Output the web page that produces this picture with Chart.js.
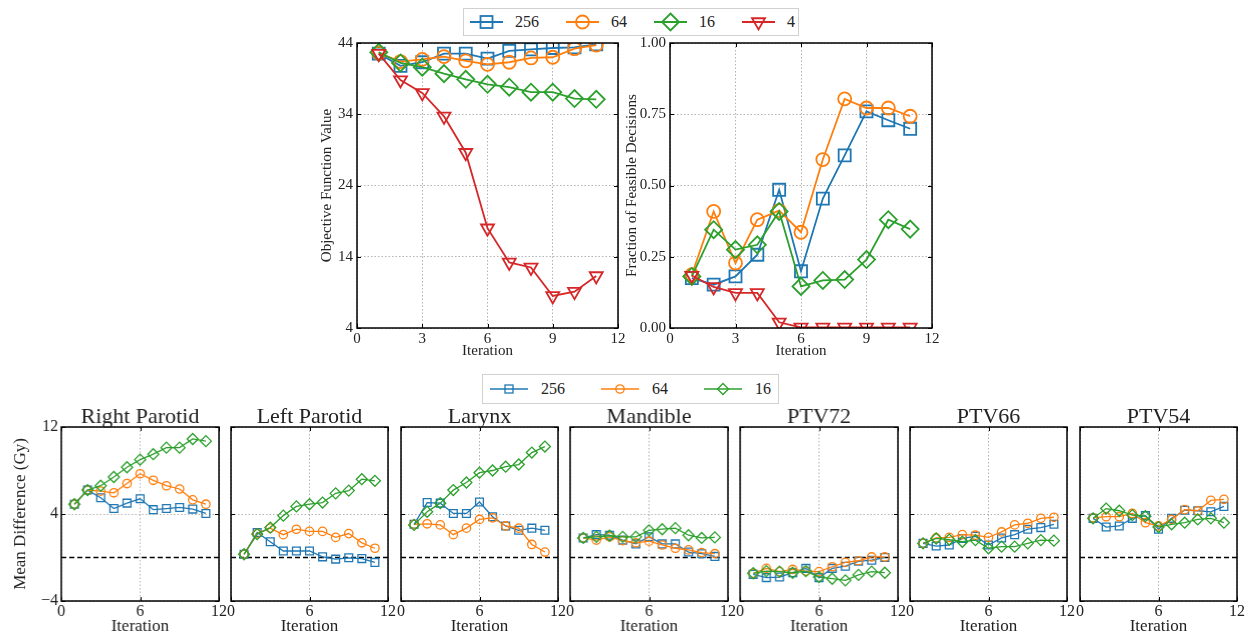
<!DOCTYPE html>
<html>
<head>
<meta charset="utf-8">
<script src="https://cdn.jsdelivr.net/npm/chart.js@4.4.1/dist/chart.umd.min.js"></script>
<style>
  body { margin: 0; width: 1252px; height: 637px; background: #fff; position: relative; overflow: hidden; font-family: "Liberation Serif", serif; }
  canvas { position: absolute; }
  .legend { position: absolute; box-sizing: border-box; border: 1px solid #d0d0d0; background: #fff; display: flex; align-items: center; color: #222; }
  .legend .item { display: flex; align-items: center; }
  .legend svg { display: block; }
</style>
</head>
<body>
<div id="legendTop" class="legend"></div>
<div id="legendBottom" class="legend"></div>
<script>
// iterations shared by every panel
const iterations = [1, 2, 3, 4, 5, 6, 7, 8, 9, 10, 11];
const seriesNames = ['256', '64', '16', '4'];
const seriesColors = ['#1f77b4', '#ff7f0e', '#2ca02c', '#d62728'];

// top left: objective function value
const objective256 = [42.5, 40.8, 41.3, 42.5, 42.5, 41.8, 42.9, 43.1, 43.3, 43.4, 43.8];
const objective64  = [42.6, 41.4, 41.7, 42.1, 41.5, 41.0, 41.3, 41.9, 42.0, 43.2, 43.7];
const objective16  = [42.7, 41.2, 40.6, 39.7, 38.9, 38.2, 37.8, 37.1, 37.1, 36.2, 36.1];
const objective4   = [42.5, 38.8, 37.0, 33.7, 28.6, 18.0, 13.2, 12.5, 8.5, 9.1, 11.3];

// top right: fraction of feasible decisions
const feasible256 = [0.175, 0.152, 0.181, 0.257, 0.485, 0.199, 0.454, 0.606, 0.760, 0.729, 0.699];
const feasible64  = [0.187, 0.409, 0.228, 0.380, 0.412, 0.336, 0.591, 0.804, 0.772, 0.772, 0.743];
const feasible16  = [0.181, 0.345, 0.275, 0.292, 0.409, 0.146, 0.167, 0.170, 0.240, 0.380, 0.347];
const feasible4   = [0.184, 0.144, 0.123, 0.123, 0.020, 0.002, 0.002, 0.002, 0.002, 0.002, 0.002];

// bottom row: mean difference (Gy), one row per organ
const organs = ['Right Parotid', 'Left Parotid', 'Larynx', 'Mandible', 'PTV72', 'PTV66', 'PTV54'];
const diff256 = [
  [4.9, 6.2, 5.5, 4.5, 5.0, 5.4, 4.4, 4.5, 4.6, 4.45, 4.05],
  [0.3, 2.3, 1.45, 0.6, 0.6, 0.6, 0.06, -0.15, -0.03, -0.1, -0.45],
  [3.05, 5.05, 5.0, 4.05, 4.05, 5.1, 3.75, 2.9, 2.5, 2.7, 2.5],
  [1.8, 2.1, 2.05, 1.6, 1.25, 1.9, 1.25, 1.25, 0.5, 0.35, 0.1],
  [-1.55, -1.85, -1.8, -1.4, -1.0, -1.85, -1.0, -0.8, -0.35, -0.25, 0.0],
  [1.3, 1.05, 1.15, 1.75, 1.95, 1.15, 1.8, 2.1, 2.6, 2.75, 3.05],
  [3.6, 2.8, 2.9, 3.6, 3.85, 2.6, 3.6, 4.35, 4.3, 4.2, 4.7]
];
const diff64 = [
  [4.9, 6.2, 6.1, 5.95, 6.8, 7.7, 7.1, 6.6, 6.3, 5.3, 4.9],
  [0.3, 2.2, 2.7, 2.1, 2.6, 2.4, 2.4, 1.85, 2.2, 1.35, 0.85],
  [3.05, 3.1, 3.0, 2.1, 2.7, 3.5, 3.65, 2.9, 2.7, 1.2, 0.5],
  [1.8, 1.6, 1.9, 1.55, 1.35, 1.5, 1.15, 0.85, 0.7, 0.45, 0.35],
  [-1.45, -1.0, -1.3, -1.1, -1.25, -1.3, -0.85, -0.45, -0.3, 0.05, 0.05],
  [1.3, 1.8, 1.85, 2.1, 2.05, 1.85, 2.35, 3.0, 3.15, 3.6, 3.7],
  [3.65, 3.75, 3.75, 4.05, 3.2, 2.9, 3.5, 4.4, 4.3, 5.25, 5.35]
];
const diff16 = [
  [4.9, 6.2, 6.6, 7.4, 8.3, 9.0, 9.5, 10.1, 10.1, 10.9, 10.7],
  [0.3, 2.15, 2.75, 3.85, 4.7, 4.9, 5.05, 5.9, 6.15, 7.2, 7.05],
  [3.0, 4.2, 5.0, 6.2, 6.9, 7.8, 8.0, 8.35, 8.55, 9.65, 10.2],
  [1.8, 1.9, 2.0, 1.9, 1.9, 2.5, 2.6, 2.7, 2.05, 1.8, 1.85],
  [-1.45, -1.25, -1.3, -1.4, -1.25, -1.8, -1.95, -2.1, -1.6, -1.3, -1.4],
  [1.3, 1.75, 1.65, 1.45, 1.6, 0.85, 1.0, 1.0, 1.3, 1.6, 1.55],
  [3.6, 4.5, 4.3, 3.9, 3.8, 2.8, 3.05, 3.2, 3.5, 3.6, 3.2]
];

Chart.defaults.font.family = '"Liberation Serif", serif';
Chart.defaults.color = '#222';

// frame, inward ticks and panel title, matplotlib style
const framePlugin = {
  id: 'frame',
  afterDraw(chart, args, opts) {
    const { ctx, chartArea: a, scales } = chart;
    const len = opts.tickLen || 4;
    ctx.save();
    ctx.strokeStyle = '#000';
    ctx.lineWidth = 1;
    ctx.beginPath();
    scales.x.ticks.forEach(t => {
      const px = Math.round(scales.x.getPixelForValue(t.value)) + 0.5;
      ctx.moveTo(px, a.bottom); ctx.lineTo(px, a.bottom - len);
      ctx.moveTo(px, a.top); ctx.lineTo(px, a.top + len);
    });
    scales.y.ticks.forEach(t => {
      const py = Math.round(scales.y.getPixelForValue(t.value)) + 0.5;
      ctx.moveTo(a.left, py); ctx.lineTo(a.left + len, py);
      ctx.moveTo(a.right, py); ctx.lineTo(a.right - len, py);
    });
    ctx.stroke();
    ctx.lineWidth = 1.5;
    ctx.strokeRect(a.left, a.top, a.right - a.left, a.bottom - a.top);
    if (opts.title) {
      ctx.fillStyle = '#222';
      ctx.font = '22px "Liberation Serif", serif';
      ctx.textAlign = 'center';
      ctx.textBaseline = 'middle';
      ctx.fillText(opts.title, (a.left + a.right) / 2, a.top - 10);
    }
    ctx.restore();
  }
};

function points(values) {
  return iterations.map((x, i) => ({ x: x, y: values[i] }));
}

function series(values, k, big) {
  const styles = ['rect', 'circle', 'rectRot', 'triangle'];
  const radius = big ? [8.5, 6.5, 8.5, 7.5] : [5.5, 4.2, 5.5, 5];
  return {
    label: seriesNames[k],
    data: points(values),
    borderColor: seriesColors[k],
    borderWidth: big ? 1.8 : 1.3,
    pointStyle: styles[k],
    pointRotation: k === 3 ? 180 : 0,
    pointRadius: radius[k],
    pointBorderColor: seriesColors[k],
    pointBackgroundColor: 'rgba(0,0,0,0)',
    pointBorderWidth: big ? 1.8 : 1.3,
    tension: 0,
    order: 4 - k
  };
}

function makeChart(box, m, datasets, xOpts, yOpts, frameOpts) {
  const c = document.createElement('canvas');
  const w = box.r - box.l + m.l + m.r;
  const h = box.b - box.t + m.t + m.b;
  c.width = w; c.height = h;
  c.style.left = (box.l - m.l) + 'px';
  c.style.top = (box.t - m.t) + 'px';
  c.style.width = w + 'px';
  c.style.height = h + 'px';
  document.body.appendChild(c);
  const grid = { color: '#a0a0a0', lineWidth: 0.8, drawTicks: false };
  const border = { display: false, dash: [1.5, 2] };
  return new Chart(c, {
    type: 'line',
    data: { datasets: datasets },
    options: {
      responsive: false,
      animation: false,
      layout: { autoPadding: false, padding: { left: 0, top: m.t, right: m.r, bottom: 0 } },
      plugins: { legend: { display: false }, tooltip: { enabled: false }, frame: frameOpts },
      scales: {
        x: Object.assign({ type: 'linear', grid: grid, border: border, afterFit(s) { s.height = m.b; } }, xOpts),
        y: Object.assign({ type: 'linear', grid: grid, border: border, afterFit(s) { s.width = m.l; } }, yOpts)
      }
    },
    plugins: [framePlugin]
  });
}

// ---- top row ----
const topX = {
  min: 0, max: 12,
  ticks: { stepSize: 3, padding: 2, font: { size: 15 }, maxRotation: 0 },
  title: { display: true, text: 'Iteration', font: { size: 15, lineHeight: 1 }, padding: { top: 0, bottom: 16 } }
};

makeChart({ l: 357, t: 43, r: 618, b: 328 }, { l: 67, t: 13, r: 12, b: 47 },
  [series(objective256, 0, true), series(objective64, 1, true), series(objective16, 2, true), series(objective4, 3, true)],
  topX,
  {
    min: 4, max: 44,
    ticks: { stepSize: 10, padding: 4, font: { size: 15 } },
    title: { display: true, text: 'Objective Function Value', font: { size: 15, lineHeight: 1 }, padding: { top: 29.5, bottom: 0 } }
  },
  { tickLen: 4 });

makeChart({ l: 670, t: 43, r: 932, b: 328 }, { l: 70, t: 13, r: 14, b: 47 },
  [series(feasible256, 0, true), series(feasible64, 1, true), series(feasible16, 2, true), series(feasible4, 3, true)],
  topX,
  {
    min: 0, max: 1,
    ticks: { stepSize: 0.25, padding: 4, font: { size: 15 }, callback: v => v.toFixed(2) },
    title: { display: true, text: 'Fraction of Feasible Decisions', font: { size: 15, lineHeight: 1 }, padding: { top: 24.5, bottom: 0 } }
  },
  { tickLen: 4 });

// ---- bottom row ----
organs.forEach((name, i) => {
  const left = 61 + i * 169.75;
  const first = i === 0;
  const zeroLine = {
    data: [{ x: 0, y: 0 }, { x: 12, y: 0 }],
    borderColor: '#000', borderWidth: 1.5, borderDash: [5, 3],
    pointRadius: 0, order: 10
  };
  makeChart({ l: left, t: 427, r: left + 157.5, b: 601 }, { l: first ? 60 : 12, t: 40, r: 12, b: 36 },
    [series(diff256[i], 0, false), series(diff64[i], 1, false), series(diff16[i], 2, false), zeroLine],
    {
      min: 0, max: 12,
      ticks: { stepSize: 6, padding: 1, font: { size: 16 }, maxRotation: 0 },
      title: { display: true, text: 'Iteration', font: { size: 17, lineHeight: 1 }, padding: { top: 0, bottom: 1.5 } }
    },
    {
      min: -4, max: 12,
      ticks: { stepSize: 8, padding: 3, font: { size: 16 }, display: first,
               callback: v => (v < 0 ? '\u2212' + Math.abs(v) : String(v)) },
      title: { display: first, text: 'Mean Difference (Gy)', font: { size: 17, lineHeight: 1 }, padding: { top: 11.5, bottom: 0 } }
    },
    { tickLen: 4, title: name });
});

// ---- legends (HTML, built from the series arrays) ----
function markerSvg(k, lineLen, big) {
  const c = seriesColors[k];
  const mid = lineLen / 2, cy = 10;
  const sw = big ? 1.8 : 1.3;
  let shape = '';
  if (k === 0) { const s = big ? 12 : 8; shape = `<rect x="${mid - s / 2}" y="${cy - s / 2}" width="${s}" height="${s}" fill="none" stroke="${c}" stroke-width="${sw}"/>`; }
  if (k === 1) { const r = big ? 6.5 : 4.2; shape = `<circle cx="${mid}" cy="${cy}" r="${r}" fill="none" stroke="${c}" stroke-width="${sw}"/>`; }
  if (k === 2) { const r = big ? 8.5 : 5.5; shape = `<polygon points="${mid},${cy - r} ${mid + r},${cy} ${mid},${cy + r} ${mid - r},${cy}" fill="none" stroke="${c}" stroke-width="${sw}"/>`; }
  if (k === 3) { const r = 7.5; shape = `<polygon points="${mid - r * 0.866},${cy - r / 2} ${mid + r * 0.866},${cy - r / 2} ${mid},${cy + r}" fill="none" stroke="${c}" stroke-width="${sw}"/>`; }
  return `<svg width="${lineLen}" height="20"><line x1="0" y1="${cy}" x2="${lineLen}" y2="${cy}" stroke="${c}" stroke-width="${sw}"/>${shape}</svg>`;
}

function buildLegend(id, count, pos, lineLen, textGap, gap, padLeft, fontSize, big) {
  const el = document.getElementById(id);
  Object.assign(el.style, {
    left: pos.l + 'px', top: pos.t + 'px', width: pos.w + 'px', height: pos.h + 'px',
    paddingLeft: padLeft + 'px', gap: gap + 'px', fontSize: fontSize + 'px'
  });
  for (let k = 0; k < count; k++) {
    const item = document.createElement('div');
    item.className = 'item';
    item.innerHTML = markerSvg(k, lineLen, big) + `<span style="margin-left:${textGap}px">${seriesNames[k]}</span>`;
    el.appendChild(item);
  }
}

buildLegend('legendTop', 4, { l: 463, t: 8, w: 336, h: 28 }, 33, 12, 27, 6, 16, true);
buildLegend('legendBottom', 3, { l: 482, t: 374, w: 297, h: 30 }, 38, 13, 36, 7, 16, false);
</script>
</body>
</html>
